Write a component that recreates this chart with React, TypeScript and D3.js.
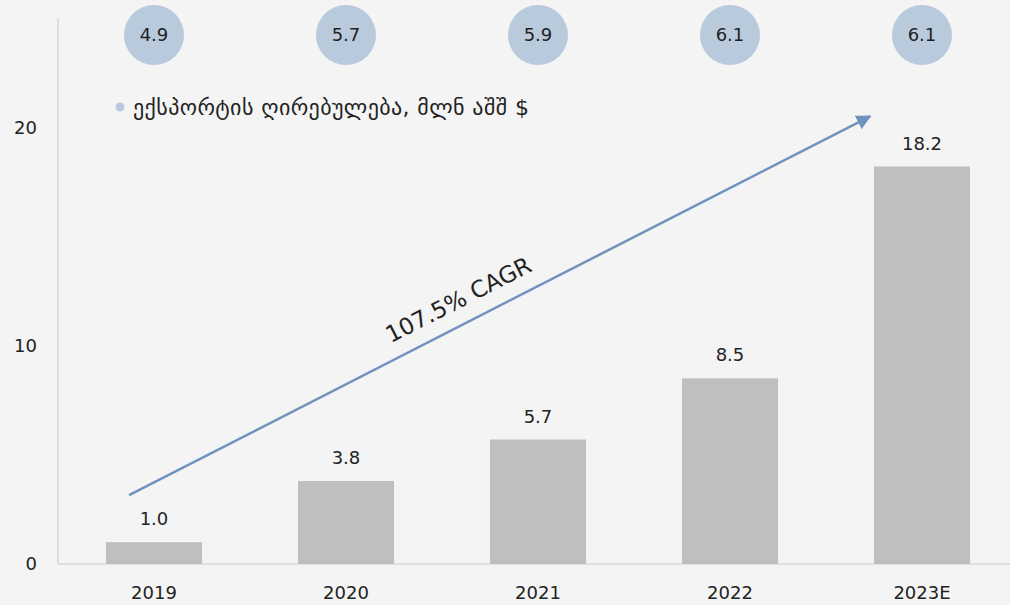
import React from "react";
import * as d3 from "d3";

// chart values
const years = ["2019", "2020", "2021", "2022", "2023E"];
const exportValue = [1.0, 3.8, 5.7, 8.5, 18.2];
const bubbleValues = [4.9, 5.7, 5.9, 6.1, 6.1];
const yTicks = [0, 10, 20];
const legendLabel = "ექსპორტის ღირებულება, მლნ აშშ $";
const cagrLabel = "107.5% CAGR";
// arrow annotation: category index (fractional) and value
const arrowFrom = { i: -0.13, v: 3.15 };
const arrowTo = { i: 3.73, v: 20.5 };

const W = 1010;
const H = 605;
const left = 58;
const baseY = 564;
const topY = 18;
const bubbleColor = "#b9cadd";
const barColor = "#bfbfbf";
const arrowColor = "#7093bd";
const font = "'DejaVu Sans', sans-serif";
const textColor = "#222";

export default function App() {
  const x = d3.scaleBand<string>().domain(years).range([left, left + 192 * 5]).paddingInner(0.5).paddingOuter(0.25);
  const y = d3.scaleLinear().domain([0, 25]).range([baseY, topY]);
  const cx = (yr: string) => (x(yr) as number) + x.bandwidth() / 2;
  const idx = d3.scaleLinear().domain([0, 4]).range([cx(years[0]), cx(years[4])]);

  const ax1 = idx(arrowFrom.i), ay1 = y(arrowFrom.v);
  const ax2 = idx(arrowTo.i), ay2 = y(arrowTo.v);
  const angle = (Math.atan2(ay2 - ay1, ax2 - ax1) * 180) / Math.PI;
  const mx = ax1 + (ax2 - ax1) * 0.46 - 8;
  const my = ay1 + (ay2 - ay1) * 0.46 - 14;

  return (
    <svg width={W} height={H} style={{ position: "absolute", left: 0, top: 0 }}>
      <defs>
        <marker id="arr" viewBox="0 0 10 10" refX="9" refY="5" markerWidth="6" markerHeight="6" orient="auto" markerUnits="strokeWidth">
          <path d="M0,0 L10,5 L0,10 z" fill={arrowColor} />
        </marker>
      </defs>
      <rect width={W} height={H} fill="#f4f4f4" />

      {/* axes */}
      <line x1={left} x2={left} y1={topY} y2={baseY} stroke="#d9d9d9" strokeWidth={1.5} />
      <line x1={left} x2={W} y1={baseY} y2={baseY} stroke="#d9d9d9" strokeWidth={1.5} />
      {yTicks.map((t) => (
        <text key={t} x={37} y={y(t)} dy="0.36em" textAnchor="end" fontFamily={font} fontSize={18} fill={textColor}>
          {t}
        </text>
      ))}
      {years.map((yr) => (
        <text key={yr} x={cx(yr)} y={599} textAnchor="middle" fontFamily={font} fontSize={18} fill={textColor}>
          {yr}
        </text>
      ))}

      {/* bars */}
      {years.map((yr, i) => (
        <g key={yr}>
          <rect x={x(yr)} y={y(exportValue[i])} width={x.bandwidth()} height={baseY - y(exportValue[i])} fill={barColor} />
          <text x={cx(yr)} y={y(exportValue[i]) - 17} textAnchor="middle" fontFamily={font} fontSize={18} fill={textColor}>
            {exportValue[i].toFixed(1)}
          </text>
        </g>
      ))}

      {/* bubbles */}
      {years.map((yr, i) => (
        <g key={"b" + yr}>
          <circle cx={cx(yr)} cy={35} r={30} fill={bubbleColor} />
          <text x={cx(yr)} y={35} dy="0.36em" textAnchor="middle" fontFamily={font} fontSize={18} fill={textColor}>
            {bubbleValues[i].toFixed(1)}
          </text>
        </g>
      ))}

      {/* legend */}
      <circle cx={120} cy={107} r={4.5} fill={bubbleColor} />
      <text x={133} y={107} dy="0.36em" fontFamily={font} fontSize={22} letterSpacing={0.4} fill={textColor}>
        {legendLabel}
      </text>

      {/* CAGR arrow */}
      <line x1={ax1} y1={ay1} x2={ax2} y2={ay2} stroke={arrowColor} strokeWidth={2.5} markerEnd="url(#arr)" />
      <text
        transform={`translate(${mx},${my}) rotate(${angle})`}
        textAnchor="middle"
        fontFamily={font}
        fontSize={23}
        fill={textColor}
      >
        {cagrLabel}
      </text>
    </svg>
  );
}
